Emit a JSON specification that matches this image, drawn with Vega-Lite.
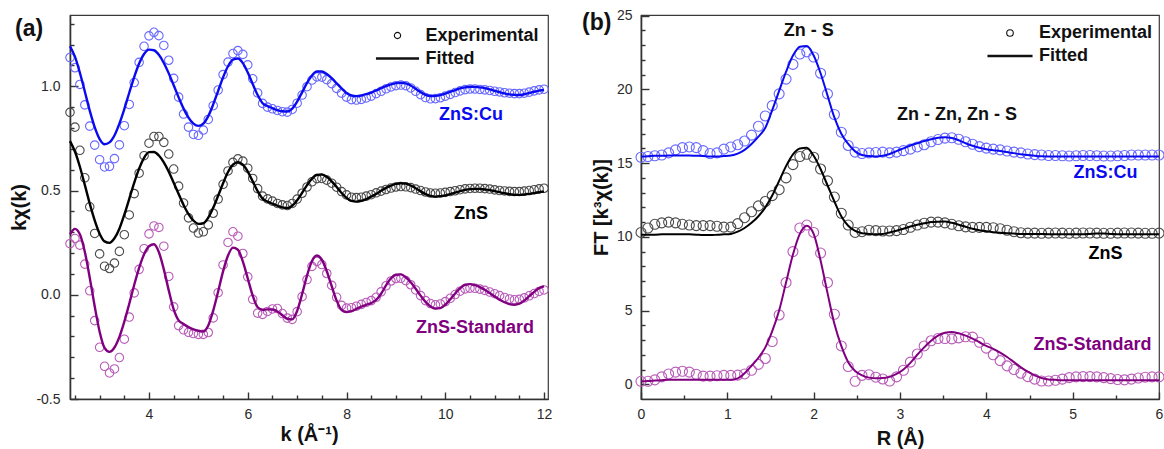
{
"$schema": "https://vega.github.io/schema/vega-lite/v6.json",
"autosize": {"type": "pad"},
"padding": {"left": 9, "top": 8, "right": 0, "bottom": 0},
"background": "white",
"config": {
  "font": "Liberation Sans",
  "view": {"stroke": "#3a3a3a", "strokeWidth": 1.2},
  "axis": {"labelFont": "Liberation Sans", "labelFontSize": 14, "labelColor": "#2a2a2a", "titleFont": "Liberation Sans", "titleFontSize": 20, "titleFontWeight": "bold", "titleColor": "#111", "domainColor": "#333", "domainWidth": 1.6, "tickColor": "#333", "tickWidth": 1.4, "grid": false, "labelFlush": false}
},
"datasets": {
"a": [
{"s":"ZnS:Cu","k":2.4,"e":1.138,"f":1.192},{"s":"ZnS:Cu","k":2.5,"e":1.089,"f":1.142},{"s":"ZnS:Cu","k":2.6,"e":1.009,"f":1.065},{"s":"ZnS:Cu","k":2.7,"e":0.911,"f":0.975},{"s":"ZnS:Cu","k":2.8,"e":0.809,"f":0.883},{"s":"ZnS:Cu","k":2.9,"e":0.718,"f":0.804},{"s":"ZnS:Cu","k":3.0,"e":0.648,"f":0.747},{"s":"ZnS:Cu","k":3.1,"e":0.613,"f":0.722},{"s":"ZnS:Cu","k":3.2,"e":0.616,"f":0.731},{"s":"ZnS:Cu","k":3.3,"e":0.653,"f":0.764},{"s":"ZnS:Cu","k":3.4,"e":0.719,"f":0.821},{"s":"ZnS:Cu","k":3.5,"e":0.811,"f":0.891},{"s":"ZnS:Cu","k":3.6,"e":0.913,"f":0.969},{"s":"ZnS:Cu","k":3.7,"e":1.018,"f":1.044},{"s":"ZnS:Cu","k":3.8,"e":1.115,"f":1.109},{"s":"ZnS:Cu","k":3.9,"e":1.192,"f":1.155},{"s":"ZnS:Cu","k":4.0,"e":1.242,"f":1.176},{"s":"ZnS:Cu","k":4.1,"e":1.259,"f":1.173},{"s":"ZnS:Cu","k":4.2,"e":1.243,"f":1.151},{"s":"ZnS:Cu","k":4.3,"e":1.196,"f":1.112},{"s":"ZnS:Cu","k":4.4,"e":1.125,"f":1.062},{"s":"ZnS:Cu","k":4.5,"e":1.038,"f":1.005},{"s":"ZnS:Cu","k":4.6,"e":0.948,"f":0.947},{"s":"ZnS:Cu","k":4.7,"e":0.867,"f":0.893},{"s":"ZnS:Cu","k":4.8,"e":0.804,"f":0.85},{"s":"ZnS:Cu","k":4.9,"e":0.769,"f":0.821},{"s":"ZnS:Cu","k":5.0,"e":0.765,"f":0.81},{"s":"ZnS:Cu","k":5.1,"e":0.79,"f":0.821},{"s":"ZnS:Cu","k":5.2,"e":0.841,"f":0.857},{"s":"ZnS:Cu","k":5.3,"e":0.907,"f":0.913},{"s":"ZnS:Cu","k":5.4,"e":0.982,"f":0.978},{"s":"ZnS:Cu","k":5.5,"e":1.056,"f":1.043},{"s":"ZnS:Cu","k":5.6,"e":1.116,"f":1.096},{"s":"ZnS:Cu","k":5.7,"e":1.157,"f":1.128},{"s":"ZnS:Cu","k":5.8,"e":1.171,"f":1.133},{"s":"ZnS:Cu","k":5.9,"e":1.153,"f":1.111},{"s":"ZnS:Cu","k":6.0,"e":1.103,"f":1.066},{"s":"ZnS:Cu","k":6.1,"e":1.036,"f":1.011},{"s":"ZnS:Cu","k":6.2,"e":0.968,"f":0.958},{"s":"ZnS:Cu","k":6.3,"e":0.918,"f":0.919},{"s":"ZnS:Cu","k":6.4,"e":0.9,"f":0.905},{"s":"ZnS:Cu","k":6.5,"e":0.892,"f":0.895},{"s":"ZnS:Cu","k":6.6,"e":0.884,"f":0.886},{"s":"ZnS:Cu","k":6.7,"e":0.878,"f":0.88},{"s":"ZnS:Cu","k":6.8,"e":0.876,"f":0.879},{"s":"ZnS:Cu","k":6.9,"e":0.889,"f":0.893},{"s":"ZnS:Cu","k":7.0,"e":0.919,"f":0.927},{"s":"ZnS:Cu","k":7.1,"e":0.958,"f":0.971},{"s":"ZnS:Cu","k":7.2,"e":0.998,"f":1.016},{"s":"ZnS:Cu","k":7.3,"e":1.03,"f":1.052},{"s":"ZnS:Cu","k":7.4,"e":1.045,"f":1.071},{"s":"ZnS:Cu","k":7.5,"e":1.044,"f":1.071},{"s":"ZnS:Cu","k":7.6,"e":1.032,"f":1.059},{"s":"ZnS:Cu","k":7.7,"e":1.013,"f":1.039},{"s":"ZnS:Cu","k":7.8,"e":0.99,"f":1.014},{"s":"ZnS:Cu","k":7.9,"e":0.967,"f":0.99},{"s":"ZnS:Cu","k":8.0,"e":0.948,"f":0.968},{"s":"ZnS:Cu","k":8.1,"e":0.936,"f":0.956},{"s":"ZnS:Cu","k":8.2,"e":0.934,"f":0.953},{"s":"ZnS:Cu","k":8.3,"e":0.937,"f":0.956},{"s":"ZnS:Cu","k":8.4,"e":0.944,"f":0.962},{"s":"ZnS:Cu","k":8.5,"e":0.953,"f":0.97},{"s":"ZnS:Cu","k":8.6,"e":0.965,"f":0.98},{"s":"ZnS:Cu","k":8.7,"e":0.976,"f":0.991},{"s":"ZnS:Cu","k":8.8,"e":0.988,"f":1.001},{"s":"ZnS:Cu","k":8.9,"e":0.997,"f":1.009},{"s":"ZnS:Cu","k":9.0,"e":1.003,"f":1.015},{"s":"ZnS:Cu","k":9.1,"e":1.006,"f":1.017},{"s":"ZnS:Cu","k":9.2,"e":1.003,"f":1.014},{"s":"ZnS:Cu","k":9.3,"e":0.992,"f":1.004},{"s":"ZnS:Cu","k":9.4,"e":0.976,"f":0.988},{"s":"ZnS:Cu","k":9.5,"e":0.96,"f":0.972},{"s":"ZnS:Cu","k":9.6,"e":0.946,"f":0.959},{"s":"ZnS:Cu","k":9.7,"e":0.94,"f":0.953},{"s":"ZnS:Cu","k":9.8,"e":0.941,"f":0.954},{"s":"ZnS:Cu","k":9.9,"e":0.945,"f":0.958},{"s":"ZnS:Cu","k":10.0,"e":0.953,"f":0.965},{"s":"ZnS:Cu","k":10.1,"e":0.961,"f":0.973},{"s":"ZnS:Cu","k":10.2,"e":0.97,"f":0.982},{"s":"ZnS:Cu","k":10.3,"e":0.978,"f":0.99},{"s":"ZnS:Cu","k":10.4,"e":0.984,"f":0.995},{"s":"ZnS:Cu","k":10.5,"e":0.987,"f":0.998},{"s":"ZnS:Cu","k":10.6,"e":0.987,"f":0.997},{"s":"ZnS:Cu","k":10.7,"e":0.985,"f":0.995},{"s":"ZnS:Cu","k":10.8,"e":0.983,"f":0.991},{"s":"ZnS:Cu","k":10.9,"e":0.98,"f":0.985},{"s":"ZnS:Cu","k":11.0,"e":0.976,"f":0.978},{"s":"ZnS:Cu","k":11.1,"e":0.973,"f":0.972},{"s":"ZnS:Cu","k":11.2,"e":0.969,"f":0.966},{"s":"ZnS:Cu","k":11.3,"e":0.967,"f":0.961},{"s":"ZnS:Cu","k":11.4,"e":0.965,"f":0.959},{"s":"ZnS:Cu","k":11.5,"e":0.965,"f":0.958},{"s":"ZnS:Cu","k":11.6,"e":0.967,"f":0.962},{"s":"ZnS:Cu","k":11.7,"e":0.972,"f":0.968},{"s":"ZnS:Cu","k":11.8,"e":0.978,"f":0.974},{"s":"ZnS:Cu","k":11.9,"e":0.983,"f":0.979},{"s":"ZnS:Cu","k":12.0,"e":0.986,"f":0.982},
{"s":"ZnS","k":2.4,"e":0.875,"f":0.737},{"s":"ZnS","k":2.5,"e":0.804,"f":0.687},{"s":"ZnS","k":2.6,"e":0.693,"f":0.614},{"s":"ZnS","k":2.7,"e":0.561,"f":0.527},{"s":"ZnS","k":2.8,"e":0.422,"f":0.437},{"s":"ZnS","k":2.9,"e":0.294,"f":0.357},{"s":"ZnS","k":3.0,"e":0.196,"f":0.293},{"s":"ZnS","k":3.1,"e":0.137,"f":0.256},{"s":"ZnS","k":3.2,"e":0.126,"f":0.249},{"s":"ZnS","k":3.3,"e":0.152,"f":0.271},{"s":"ZnS","k":3.4,"e":0.208,"f":0.317},{"s":"ZnS","k":3.5,"e":0.288,"f":0.384},{"s":"ZnS","k":3.6,"e":0.383,"f":0.46},{"s":"ZnS","k":3.7,"e":0.485,"f":0.537},{"s":"ZnS","k":3.8,"e":0.583,"f":0.605},{"s":"ZnS","k":3.9,"e":0.667,"f":0.657},{"s":"ZnS","k":4.0,"e":0.727,"f":0.684},{"s":"ZnS","k":4.1,"e":0.759,"f":0.685},{"s":"ZnS","k":4.2,"e":0.759,"f":0.668},{"s":"ZnS","k":4.3,"e":0.731,"f":0.635},{"s":"ZnS","k":4.4,"e":0.675,"f":0.59},{"s":"ZnS","k":4.5,"e":0.603,"f":0.537},{"s":"ZnS","k":4.6,"e":0.521,"f":0.483},{"s":"ZnS","k":4.7,"e":0.44,"f":0.431},{"s":"ZnS","k":4.8,"e":0.369,"f":0.387},{"s":"ZnS","k":4.9,"e":0.32,"f":0.356},{"s":"ZnS","k":5.0,"e":0.296,"f":0.34},{"s":"ZnS","k":5.1,"e":0.302,"f":0.343},{"s":"ZnS","k":5.2,"e":0.335,"f":0.37},{"s":"ZnS","k":5.3,"e":0.391,"f":0.417},{"s":"ZnS","k":5.4,"e":0.459,"f":0.475},{"s":"ZnS","k":5.5,"e":0.53,"f":0.535},{"s":"ZnS","k":5.6,"e":0.594,"f":0.589},{"s":"ZnS","k":5.7,"e":0.635,"f":0.624},{"s":"ZnS","k":5.8,"e":0.652,"f":0.636},{"s":"ZnS","k":5.9,"e":0.641,"f":0.624},{"s":"ZnS","k":6.0,"e":0.607,"f":0.591},{"s":"ZnS","k":6.1,"e":0.558,"f":0.544},{"s":"ZnS","k":6.2,"e":0.509,"f":0.497},{"s":"ZnS","k":6.3,"e":0.473,"f":0.461},{"s":"ZnS","k":6.4,"e":0.46,"f":0.447},{"s":"ZnS","k":6.5,"e":0.449,"f":0.437},{"s":"ZnS","k":6.6,"e":0.438,"f":0.427},{"s":"ZnS","k":6.7,"e":0.431,"f":0.419},{"s":"ZnS","k":6.8,"e":0.428,"f":0.416},{"s":"ZnS","k":6.9,"e":0.438,"f":0.427},{"s":"ZnS","k":7.0,"e":0.459,"f":0.453},{"s":"ZnS","k":7.1,"e":0.487,"f":0.489},{"s":"ZnS","k":7.2,"e":0.517,"f":0.526},{"s":"ZnS","k":7.3,"e":0.542,"f":0.557},{"s":"ZnS","k":7.4,"e":0.557,"f":0.575},{"s":"ZnS","k":7.5,"e":0.558,"f":0.577},{"s":"ZnS","k":7.6,"e":0.55,"f":0.566},{"s":"ZnS","k":7.7,"e":0.535,"f":0.544},{"s":"ZnS","k":7.8,"e":0.516,"f":0.517},{"s":"ZnS","k":7.9,"e":0.495,"f":0.488},{"s":"ZnS","k":8.0,"e":0.479,"f":0.465},{"s":"ZnS","k":8.1,"e":0.468,"f":0.45},{"s":"ZnS","k":8.2,"e":0.466,"f":0.447},{"s":"ZnS","k":8.3,"e":0.468,"f":0.451},{"s":"ZnS","k":8.4,"e":0.473,"f":0.459},{"s":"ZnS","k":8.5,"e":0.48,"f":0.471},{"s":"ZnS","k":8.6,"e":0.489,"f":0.484},{"s":"ZnS","k":8.7,"e":0.497,"f":0.499},{"s":"ZnS","k":8.8,"e":0.505,"f":0.513},{"s":"ZnS","k":8.9,"e":0.512,"f":0.524},{"s":"ZnS","k":9.0,"e":0.517,"f":0.532},{"s":"ZnS","k":9.1,"e":0.519,"f":0.535},{"s":"ZnS","k":9.2,"e":0.518,"f":0.533},{"s":"ZnS","k":9.3,"e":0.514,"f":0.524},{"s":"ZnS","k":9.4,"e":0.507,"f":0.511},{"s":"ZnS","k":9.5,"e":0.5,"f":0.496},{"s":"ZnS","k":9.6,"e":0.493,"f":0.483},{"s":"ZnS","k":9.7,"e":0.488,"f":0.474},{"s":"ZnS","k":9.8,"e":0.487,"f":0.471},{"s":"ZnS","k":9.9,"e":0.488,"f":0.473},{"s":"ZnS","k":10.0,"e":0.491,"f":0.477},{"s":"ZnS","k":10.1,"e":0.495,"f":0.483},{"s":"ZnS","k":10.2,"e":0.499,"f":0.49},{"s":"ZnS","k":10.3,"e":0.504,"f":0.497},{"s":"ZnS","k":10.4,"e":0.508,"f":0.503},{"s":"ZnS","k":10.5,"e":0.51,"f":0.507},{"s":"ZnS","k":10.6,"e":0.511,"f":0.508},{"s":"ZnS","k":10.7,"e":0.511,"f":0.508},{"s":"ZnS","k":10.8,"e":0.509,"f":0.505},{"s":"ZnS","k":10.9,"e":0.507,"f":0.502},{"s":"ZnS","k":11.0,"e":0.503,"f":0.497},{"s":"ZnS","k":11.1,"e":0.5,"f":0.492},{"s":"ZnS","k":11.2,"e":0.498,"f":0.487},{"s":"ZnS","k":11.3,"e":0.496,"f":0.483},{"s":"ZnS","k":11.4,"e":0.495,"f":0.48},{"s":"ZnS","k":11.5,"e":0.495,"f":0.479},{"s":"ZnS","k":11.6,"e":0.497,"f":0.481},{"s":"ZnS","k":11.7,"e":0.5,"f":0.484},{"s":"ZnS","k":11.8,"e":0.504,"f":0.488},{"s":"ZnS","k":11.9,"e":0.508,"f":0.492},{"s":"ZnS","k":12.0,"e":0.511,"f":0.495},
{"s":"ZnS-Standard","k":2.4,"e":0.245,"f":0.29},{"s":"ZnS-Standard","k":2.5,"e":0.27,"f":0.316},{"s":"ZnS-Standard","k":2.6,"e":0.238,"f":0.29},{"s":"ZnS-Standard","k":2.7,"e":0.147,"f":0.206},{"s":"ZnS-Standard","k":2.8,"e":0.019,"f":0.082},{"s":"ZnS-Standard","k":2.9,"e":-0.124,"f":-0.055},{"s":"ZnS-Standard","k":3.0,"e":-0.252,"f":-0.177},{"s":"ZnS-Standard","k":3.1,"e":-0.343,"f":-0.255},{"s":"ZnS-Standard","k":3.2,"e":-0.375,"f":-0.274},{"s":"ZnS-Standard","k":3.3,"e":-0.356,"f":-0.253},{"s":"ZnS-Standard","k":3.4,"e":-0.301,"f":-0.202},{"s":"ZnS-Standard","k":3.5,"e":-0.213,"f":-0.129},{"s":"ZnS-Standard","k":3.6,"e":-0.107,"f":-0.043},{"s":"ZnS-Standard","k":3.7,"e":0.009,"f":0.047},{"s":"ZnS-Standard","k":3.8,"e":0.122,"f":0.129},{"s":"ZnS-Standard","k":3.9,"e":0.221,"f":0.194},{"s":"ZnS-Standard","k":4.0,"e":0.292,"f":0.233},{"s":"ZnS-Standard","k":4.1,"e":0.33,"f":0.242},{"s":"ZnS-Standard","k":4.2,"e":0.323,"f":0.204},{"s":"ZnS-Standard","k":4.3,"e":0.233,"f":0.122},{"s":"ZnS-Standard","k":4.4,"e":0.088,"f":0.021},{"s":"ZnS-Standard","k":4.5,"e":-0.058,"f":-0.07},{"s":"ZnS-Standard","k":4.6,"e":-0.148,"f":-0.123},{"s":"ZnS-Standard","k":4.7,"e":-0.168,"f":-0.14},{"s":"ZnS-Standard","k":4.8,"e":-0.18,"f":-0.155},{"s":"ZnS-Standard","k":4.9,"e":-0.186,"f":-0.166},{"s":"ZnS-Standard","k":5.0,"e":-0.19,"f":-0.173},{"s":"ZnS-Standard","k":5.1,"e":-0.19,"f":-0.176},{"s":"ZnS-Standard","k":5.2,"e":-0.181,"f":-0.147},{"s":"ZnS-Standard","k":5.3,"e":-0.111,"f":-0.076},{"s":"ZnS-Standard","k":5.4,"e":0.01,"f":0.016},{"s":"ZnS-Standard","k":5.5,"e":0.143,"f":0.112},{"s":"ZnS-Standard","k":5.6,"e":0.251,"f":0.188},{"s":"ZnS-Standard","k":5.7,"e":0.302,"f":0.226},{"s":"ZnS-Standard","k":5.8,"e":0.281,"f":0.216},{"s":"ZnS-Standard","k":5.9,"e":0.198,"f":0.16},{"s":"ZnS-Standard","k":6.0,"e":0.086,"f":0.078},{"s":"ZnS-Standard","k":6.1,"e":-0.022,"f":-0.004},{"s":"ZnS-Standard","k":6.2,"e":-0.088,"f":-0.06},{"s":"ZnS-Standard","k":6.3,"e":-0.094,"f":-0.072},{"s":"ZnS-Standard","k":6.4,"e":-0.08,"f":-0.07},{"s":"ZnS-Standard","k":6.5,"e":-0.068,"f":-0.071},{"s":"ZnS-Standard","k":6.6,"e":-0.066,"f":-0.08},{"s":"ZnS-Standard","k":6.7,"e":-0.09,"f":-0.098},{"s":"ZnS-Standard","k":6.8,"e":-0.112,"f":-0.115},{"s":"ZnS-Standard","k":6.9,"e":-0.118,"f":-0.118},{"s":"ZnS-Standard","k":7.0,"e":-0.081,"f":-0.077},{"s":"ZnS-Standard","k":7.1,"e":-0.009,"f":0.003},{"s":"ZnS-Standard","k":7.2,"e":0.073,"f":0.092},{"s":"ZnS-Standard","k":7.3,"e":0.136,"f":0.162},{"s":"ZnS-Standard","k":7.4,"e":0.16,"f":0.188},{"s":"ZnS-Standard","k":7.5,"e":0.145,"f":0.168},{"s":"ZnS-Standard","k":7.6,"e":0.102,"f":0.113},{"s":"ZnS-Standard","k":7.7,"e":0.045,"f":0.041},{"s":"ZnS-Standard","k":7.8,"e":-0.012,"f":-0.028},{"s":"ZnS-Standard","k":7.9,"e":-0.051,"f":-0.073},{"s":"ZnS-Standard","k":8.0,"e":-0.064,"f":-0.083},{"s":"ZnS-Standard","k":8.1,"e":-0.062,"f":-0.078},{"s":"ZnS-Standard","k":8.2,"e":-0.055,"f":-0.068},{"s":"ZnS-Standard","k":8.3,"e":-0.046,"f":-0.057},{"s":"ZnS-Standard","k":8.4,"e":-0.037,"f":-0.048},{"s":"ZnS-Standard","k":8.5,"e":-0.028,"f":-0.04},{"s":"ZnS-Standard","k":8.6,"e":-0.012,"f":-0.025},{"s":"ZnS-Standard","k":8.7,"e":0.014,"f":0.005},{"s":"ZnS-Standard","k":8.8,"e":0.043,"f":0.045},{"s":"ZnS-Standard","k":8.9,"e":0.066,"f":0.079},{"s":"ZnS-Standard","k":9.0,"e":0.078,"f":0.096},{"s":"ZnS-Standard","k":9.1,"e":0.079,"f":0.098},{"s":"ZnS-Standard","k":9.2,"e":0.068,"f":0.084},{"s":"ZnS-Standard","k":9.3,"e":0.048,"f":0.06},{"s":"ZnS-Standard","k":9.4,"e":0.023,"f":0.029},{"s":"ZnS-Standard","k":9.5,"e":-0.004,"f":-0.004},{"s":"ZnS-Standard","k":9.6,"e":-0.028,"f":-0.034},{"s":"ZnS-Standard","k":9.7,"e":-0.042,"f":-0.056},{"s":"ZnS-Standard","k":9.8,"e":-0.048,"f":-0.066},{"s":"ZnS-Standard","k":9.9,"e":-0.044,"f":-0.064},{"s":"ZnS-Standard","k":10.0,"e":-0.033,"f":-0.048},{"s":"ZnS-Standard","k":10.1,"e":-0.017,"f":-0.022},{"s":"ZnS-Standard","k":10.2,"e":0.001,"f":0.006},{"s":"ZnS-Standard","k":10.3,"e":0.017,"f":0.032},{"s":"ZnS-Standard","k":10.4,"e":0.028,"f":0.048},{"s":"ZnS-Standard","k":10.5,"e":0.032,"f":0.051},{"s":"ZnS-Standard","k":10.6,"e":0.031,"f":0.046},{"s":"ZnS-Standard","k":10.7,"e":0.027,"f":0.037},{"s":"ZnS-Standard","k":10.8,"e":0.021,"f":0.024},{"s":"ZnS-Standard","k":10.9,"e":0.013,"f":0.008},{"s":"ZnS-Standard","k":11.0,"e":0.005,"f":-0.008},{"s":"ZnS-Standard","k":11.1,"e":-0.004,"f":-0.024},{"s":"ZnS-Standard","k":11.2,"e":-0.013,"f":-0.036},{"s":"ZnS-Standard","k":11.3,"e":-0.02,"f":-0.045},{"s":"ZnS-Standard","k":11.4,"e":-0.024,"f":-0.048},{"s":"ZnS-Standard","k":11.5,"e":-0.022,"f":-0.043},{"s":"ZnS-Standard","k":11.6,"e":-0.015,"f":-0.028},{"s":"ZnS-Standard","k":11.7,"e":-0.005,"f":-0.007},{"s":"ZnS-Standard","k":11.8,"e":0.006,"f":0.014},{"s":"ZnS-Standard","k":11.9,"e":0.016,"f":0.032},{"s":"ZnS-Standard","k":12.0,"e":0.023,"f":0.04}
],
"b": [
{"s":"ZnS:Cu","r":0,"e":15.4,"f":15.45},{"s":"ZnS:Cu","r":0.08,"e":15.45,"f":15.47},{"s":"ZnS:Cu","r":0.16,"e":15.5,"f":15.5},{"s":"ZnS:Cu","r":0.24,"e":15.55,"f":15.5},{"s":"ZnS:Cu","r":0.32,"e":15.7,"f":15.52},{"s":"ZnS:Cu","r":0.4,"e":15.9,"f":15.52},{"s":"ZnS:Cu","r":0.48,"e":16.05,"f":15.52},{"s":"ZnS:Cu","r":0.56,"e":16.1,"f":15.52},{"s":"ZnS:Cu","r":0.64,"e":16.05,"f":15.5},{"s":"ZnS:Cu","r":0.72,"e":15.85,"f":15.48},{"s":"ZnS:Cu","r":0.8,"e":15.65,"f":15.45},{"s":"ZnS:Cu","r":0.88,"e":15.7,"f":15.45},{"s":"ZnS:Cu","r":0.96,"e":15.95,"f":15.48},{"s":"ZnS:Cu","r":1.04,"e":16.1,"f":15.52},{"s":"ZnS:Cu","r":1.12,"e":16.25,"f":15.65},{"s":"ZnS:Cu","r":1.2,"e":16.5,"f":15.9},{"s":"ZnS:Cu","r":1.28,"e":16.9,"f":16.3},{"s":"ZnS:Cu","r":1.36,"e":17.5,"f":16.8},{"s":"ZnS:Cu","r":1.44,"e":18.2,"f":17.4},{"s":"ZnS:Cu","r":1.52,"e":18.9,"f":18.6},{"s":"ZnS:Cu","r":1.6,"e":19.7,"f":19.9},{"s":"ZnS:Cu","r":1.68,"e":20.7,"f":21.2},{"s":"ZnS:Cu","r":1.76,"e":21.7,"f":22.3},{"s":"ZnS:Cu","r":1.84,"e":22.4,"f":22.9},{"s":"ZnS:Cu","r":1.92,"e":22.55,"f":22.95},{"s":"ZnS:Cu","r":2.0,"e":22.2,"f":22.3},{"s":"ZnS:Cu","r":2.08,"e":21.1,"f":21.1},{"s":"ZnS:Cu","r":2.16,"e":19.7,"f":19.6},{"s":"ZnS:Cu","r":2.24,"e":18.3,"f":18.1},{"s":"ZnS:Cu","r":2.32,"e":17.1,"f":17.0},{"s":"ZnS:Cu","r":2.4,"e":16.2,"f":16.3},{"s":"ZnS:Cu","r":2.48,"e":15.75,"f":15.8},{"s":"ZnS:Cu","r":2.56,"e":15.65,"f":15.55},{"s":"ZnS:Cu","r":2.64,"e":15.7,"f":15.48},{"s":"ZnS:Cu","r":2.72,"e":15.72,"f":15.45},{"s":"ZnS:Cu","r":2.8,"e":15.75,"f":15.5},{"s":"ZnS:Cu","r":2.88,"e":15.7,"f":15.62},{"s":"ZnS:Cu","r":2.96,"e":15.75,"f":15.82},{"s":"ZnS:Cu","r":3.04,"e":15.85,"f":16.0},{"s":"ZnS:Cu","r":3.12,"e":15.95,"f":16.2},{"s":"ZnS:Cu","r":3.2,"e":16.1,"f":16.35},{"s":"ZnS:Cu","r":3.28,"e":16.25,"f":16.5},{"s":"ZnS:Cu","r":3.36,"e":16.45,"f":16.62},{"s":"ZnS:Cu","r":3.44,"e":16.6,"f":16.72},{"s":"ZnS:Cu","r":3.52,"e":16.7,"f":16.76},{"s":"ZnS:Cu","r":3.6,"e":16.72,"f":16.7},{"s":"ZnS:Cu","r":3.68,"e":16.62,"f":16.55},{"s":"ZnS:Cu","r":3.76,"e":16.45,"f":16.35},{"s":"ZnS:Cu","r":3.84,"e":16.28,"f":16.18},{"s":"ZnS:Cu","r":3.92,"e":16.12,"f":16.05},{"s":"ZnS:Cu","r":4.0,"e":16.02,"f":15.95},{"s":"ZnS:Cu","r":4.08,"e":15.95,"f":15.88},{"s":"ZnS:Cu","r":4.16,"e":15.9,"f":15.82},{"s":"ZnS:Cu","r":4.24,"e":15.82,"f":15.75},{"s":"ZnS:Cu","r":4.32,"e":15.75,"f":15.68},{"s":"ZnS:Cu","r":4.4,"e":15.7,"f":15.6},{"s":"ZnS:Cu","r":4.48,"e":15.62,"f":15.55},{"s":"ZnS:Cu","r":4.56,"e":15.58,"f":15.5},{"s":"ZnS:Cu","r":4.64,"e":15.55,"f":15.46},{"s":"ZnS:Cu","r":4.72,"e":15.52,"f":15.45},{"s":"ZnS:Cu","r":4.8,"e":15.52,"f":15.45},{"s":"ZnS:Cu","r":4.88,"e":15.5,"f":15.45},{"s":"ZnS:Cu","r":4.96,"e":15.48,"f":15.45},{"s":"ZnS:Cu","r":5.04,"e":15.5,"f":15.45},{"s":"ZnS:Cu","r":5.12,"e":15.52,"f":15.45},{"s":"ZnS:Cu","r":5.2,"e":15.52,"f":15.45},{"s":"ZnS:Cu","r":5.28,"e":15.5,"f":15.45},{"s":"ZnS:Cu","r":5.36,"e":15.48,"f":15.45},{"s":"ZnS:Cu","r":5.44,"e":15.48,"f":15.45},{"s":"ZnS:Cu","r":5.52,"e":15.5,"f":15.45},{"s":"ZnS:Cu","r":5.6,"e":15.52,"f":15.45},{"s":"ZnS:Cu","r":5.68,"e":15.55,"f":15.45},{"s":"ZnS:Cu","r":5.76,"e":15.55,"f":15.45},{"s":"ZnS:Cu","r":5.84,"e":15.55,"f":15.45},{"s":"ZnS:Cu","r":5.92,"e":15.55,"f":15.45},{"s":"ZnS:Cu","r":6.0,"e":15.55,"f":15.45},
{"s":"ZnS","r":0,"e":10.3,"f":10.15},{"s":"ZnS","r":0.08,"e":10.6,"f":10.15},{"s":"ZnS","r":0.16,"e":10.85,"f":10.15},{"s":"ZnS","r":0.24,"e":10.95,"f":10.17},{"s":"ZnS","r":0.32,"e":11.0,"f":10.18},{"s":"ZnS","r":0.4,"e":10.95,"f":10.18},{"s":"ZnS","r":0.48,"e":10.85,"f":10.18},{"s":"ZnS","r":0.56,"e":10.8,"f":10.17},{"s":"ZnS","r":0.64,"e":10.76,"f":10.15},{"s":"ZnS","r":0.72,"e":10.76,"f":10.12},{"s":"ZnS","r":0.8,"e":10.76,"f":10.12},{"s":"ZnS","r":0.88,"e":10.72,"f":10.14},{"s":"ZnS","r":0.96,"e":10.66,"f":10.17},{"s":"ZnS","r":1.04,"e":10.66,"f":10.2},{"s":"ZnS","r":1.12,"e":10.9,"f":10.35},{"s":"ZnS","r":1.2,"e":11.3,"f":10.6},{"s":"ZnS","r":1.28,"e":11.7,"f":10.95},{"s":"ZnS","r":1.36,"e":12.1,"f":11.4},{"s":"ZnS","r":1.44,"e":12.4,"f":12.0},{"s":"ZnS","r":1.52,"e":12.8,"f":12.8},{"s":"ZnS","r":1.6,"e":13.2,"f":13.8},{"s":"ZnS","r":1.68,"e":14.0,"f":14.8},{"s":"ZnS","r":1.76,"e":14.9,"f":15.6},{"s":"ZnS","r":1.84,"e":15.45,"f":16.0},{"s":"ZnS","r":1.92,"e":15.6,"f":16.05},{"s":"ZnS","r":2.0,"e":15.4,"f":15.5},{"s":"ZnS","r":2.08,"e":14.6,"f":14.6},{"s":"ZnS","r":2.16,"e":13.8,"f":13.5},{"s":"ZnS","r":2.24,"e":12.7,"f":12.4},{"s":"ZnS","r":2.32,"e":11.6,"f":11.4},{"s":"ZnS","r":2.4,"e":10.8,"f":10.75},{"s":"ZnS","r":2.48,"e":10.3,"f":10.4},{"s":"ZnS","r":2.56,"e":10.35,"f":10.25},{"s":"ZnS","r":2.64,"e":10.45,"f":10.2},{"s":"ZnS","r":2.72,"e":10.42,"f":10.18},{"s":"ZnS","r":2.8,"e":10.4,"f":10.2},{"s":"ZnS","r":2.88,"e":10.4,"f":10.3},{"s":"ZnS","r":2.96,"e":10.42,"f":10.42},{"s":"ZnS","r":3.04,"e":10.5,"f":10.55},{"s":"ZnS","r":3.12,"e":10.65,"f":10.7},{"s":"ZnS","r":3.2,"e":10.8,"f":10.82},{"s":"ZnS","r":3.28,"e":10.92,"f":10.92},{"s":"ZnS","r":3.36,"e":11.0,"f":11.0},{"s":"ZnS","r":3.44,"e":11.0,"f":11.03},{"s":"ZnS","r":3.52,"e":10.95,"f":11.04},{"s":"ZnS","r":3.6,"e":10.85,"f":10.95},{"s":"ZnS","r":3.68,"e":10.75,"f":10.82},{"s":"ZnS","r":3.76,"e":10.68,"f":10.68},{"s":"ZnS","r":3.84,"e":10.64,"f":10.55},{"s":"ZnS","r":3.92,"e":10.64,"f":10.45},{"s":"ZnS","r":4.0,"e":10.64,"f":10.38},{"s":"ZnS","r":4.08,"e":10.62,"f":10.32},{"s":"ZnS","r":4.16,"e":10.55,"f":10.28},{"s":"ZnS","r":4.24,"e":10.45,"f":10.25},{"s":"ZnS","r":4.32,"e":10.35,"f":10.22},{"s":"ZnS","r":4.4,"e":10.28,"f":10.2},{"s":"ZnS","r":4.48,"e":10.25,"f":10.2},{"s":"ZnS","r":4.56,"e":10.25,"f":10.2},{"s":"ZnS","r":4.64,"e":10.24,"f":10.19},{"s":"ZnS","r":4.72,"e":10.25,"f":10.18},{"s":"ZnS","r":4.8,"e":10.26,"f":10.18},{"s":"ZnS","r":4.88,"e":10.25,"f":10.18},{"s":"ZnS","r":4.96,"e":10.24,"f":10.18},{"s":"ZnS","r":5.04,"e":10.25,"f":10.18},{"s":"ZnS","r":5.12,"e":10.26,"f":10.18},{"s":"ZnS","r":5.2,"e":10.26,"f":10.2},{"s":"ZnS","r":5.28,"e":10.25,"f":10.22},{"s":"ZnS","r":5.36,"e":10.24,"f":10.22},{"s":"ZnS","r":5.44,"e":10.24,"f":10.2},{"s":"ZnS","r":5.52,"e":10.25,"f":10.18},{"s":"ZnS","r":5.6,"e":10.26,"f":10.17},{"s":"ZnS","r":5.68,"e":10.26,"f":10.17},{"s":"ZnS","r":5.76,"e":10.25,"f":10.18},{"s":"ZnS","r":5.84,"e":10.24,"f":10.18},{"s":"ZnS","r":5.92,"e":10.24,"f":10.18},{"s":"ZnS","r":6.0,"e":10.25,"f":10.18},
{"s":"ZnS-Standard","r":0,"e":0.2,"f":0.2},{"s":"ZnS-Standard","r":0.08,"e":0.2,"f":0.22},{"s":"ZnS-Standard","r":0.16,"e":0.3,"f":0.25},{"s":"ZnS-Standard","r":0.24,"e":0.5,"f":0.28},{"s":"ZnS-Standard","r":0.32,"e":0.7,"f":0.3},{"s":"ZnS-Standard","r":0.4,"e":0.82,"f":0.3},{"s":"ZnS-Standard","r":0.48,"e":0.88,"f":0.3},{"s":"ZnS-Standard","r":0.56,"e":0.82,"f":0.3},{"s":"ZnS-Standard","r":0.64,"e":0.68,"f":0.3},{"s":"ZnS-Standard","r":0.72,"e":0.55,"f":0.3},{"s":"ZnS-Standard","r":0.8,"e":0.55,"f":0.3},{"s":"ZnS-Standard","r":0.88,"e":0.58,"f":0.3},{"s":"ZnS-Standard","r":0.96,"e":0.6,"f":0.3},{"s":"ZnS-Standard","r":1.04,"e":0.6,"f":0.3},{"s":"ZnS-Standard","r":1.12,"e":0.62,"f":0.4},{"s":"ZnS-Standard","r":1.2,"e":0.7,"f":0.75},{"s":"ZnS-Standard","r":1.28,"e":0.95,"f":1.25},{"s":"ZnS-Standard","r":1.36,"e":1.35,"f":1.8},{"s":"ZnS-Standard","r":1.44,"e":1.75,"f":2.5},{"s":"ZnS-Standard","r":1.52,"e":2.9,"f":3.6},{"s":"ZnS-Standard","r":1.6,"e":4.7,"f":5.0},{"s":"ZnS-Standard","r":1.68,"e":6.9,"f":6.9},{"s":"ZnS-Standard","r":1.76,"e":9.0,"f":8.8},{"s":"ZnS-Standard","r":1.84,"e":10.6,"f":10.2},{"s":"ZnS-Standard","r":1.92,"e":10.8,"f":10.75},{"s":"ZnS-Standard","r":2.0,"e":10.3,"f":10.2},{"s":"ZnS-Standard","r":2.08,"e":8.9,"f":8.4},{"s":"ZnS-Standard","r":2.16,"e":6.9,"f":6.2},{"s":"ZnS-Standard","r":2.24,"e":4.75,"f":4.1},{"s":"ZnS-Standard","r":2.32,"e":2.6,"f":2.6},{"s":"ZnS-Standard","r":2.4,"e":1.2,"f":1.5},{"s":"ZnS-Standard","r":2.48,"e":0.2,"f":0.9},{"s":"ZnS-Standard","r":2.56,"e":0.6,"f":0.6},{"s":"ZnS-Standard","r":2.64,"e":0.65,"f":0.45},{"s":"ZnS-Standard","r":2.72,"e":0.48,"f":0.4},{"s":"ZnS-Standard","r":2.8,"e":0.36,"f":0.42},{"s":"ZnS-Standard","r":2.88,"e":0.22,"f":0.5},{"s":"ZnS-Standard","r":2.96,"e":0.5,"f":0.7},{"s":"ZnS-Standard","r":3.04,"e":0.95,"f":1.0},{"s":"ZnS-Standard","r":3.12,"e":1.5,"f":1.45},{"s":"ZnS-Standard","r":3.2,"e":2.05,"f":2.0},{"s":"ZnS-Standard","r":3.28,"e":2.6,"f":2.5},{"s":"ZnS-Standard","r":3.36,"e":2.95,"f":2.95},{"s":"ZnS-Standard","r":3.44,"e":3.1,"f":3.3},{"s":"ZnS-Standard","r":3.52,"e":3.1,"f":3.5},{"s":"ZnS-Standard","r":3.6,"e":3.08,"f":3.55},{"s":"ZnS-Standard","r":3.68,"e":3.15,"f":3.45},{"s":"ZnS-Standard","r":3.76,"e":3.22,"f":3.3},{"s":"ZnS-Standard","r":3.84,"e":3.2,"f":3.1},{"s":"ZnS-Standard","r":3.92,"e":2.85,"f":2.85},{"s":"ZnS-Standard","r":4.0,"e":2.45,"f":2.6},{"s":"ZnS-Standard","r":4.08,"e":2.0,"f":2.4},{"s":"ZnS-Standard","r":4.16,"e":1.6,"f":2.15},{"s":"ZnS-Standard","r":4.24,"e":1.25,"f":1.85},{"s":"ZnS-Standard","r":4.32,"e":1.0,"f":1.5},{"s":"ZnS-Standard","r":4.4,"e":0.75,"f":1.15},{"s":"ZnS-Standard","r":4.48,"e":0.52,"f":0.85},{"s":"ZnS-Standard","r":4.56,"e":0.35,"f":0.6},{"s":"ZnS-Standard","r":4.64,"e":0.22,"f":0.42},{"s":"ZnS-Standard","r":4.72,"e":0.22,"f":0.33},{"s":"ZnS-Standard","r":4.8,"e":0.27,"f":0.3},{"s":"ZnS-Standard","r":4.88,"e":0.35,"f":0.28},{"s":"ZnS-Standard","r":4.96,"e":0.45,"f":0.28},{"s":"ZnS-Standard","r":5.04,"e":0.5,"f":0.28},{"s":"ZnS-Standard","r":5.12,"e":0.52,"f":0.28},{"s":"ZnS-Standard","r":5.2,"e":0.52,"f":0.28},{"s":"ZnS-Standard","r":5.28,"e":0.5,"f":0.28},{"s":"ZnS-Standard","r":5.36,"e":0.45,"f":0.28},{"s":"ZnS-Standard","r":5.44,"e":0.38,"f":0.28},{"s":"ZnS-Standard","r":5.52,"e":0.32,"f":0.28},{"s":"ZnS-Standard","r":5.6,"e":0.3,"f":0.28},{"s":"ZnS-Standard","r":5.68,"e":0.35,"f":0.28},{"s":"ZnS-Standard","r":5.76,"e":0.42,"f":0.28},{"s":"ZnS-Standard","r":5.84,"e":0.48,"f":0.28},{"s":"ZnS-Standard","r":5.92,"e":0.5,"f":0.28},{"s":"ZnS-Standard","r":6.0,"e":0.5,"f":0.28}
],
"la": [
{"s":"ZnS:Cu","k":10.52,"y":0.862,"t":"ZnS:Cu"},
{"s":"ZnS","k":10.52,"y":0.388,"t":"ZnS"},
{"s":"ZnS-Standard","k":10.6,"y":-0.158,"t":"ZnS-Standard"}
],
"lb": [
{"s":"bond","r":1.944,"v":23.98,"t":"Zn - S"},
{"s":"bond","r":3.66,"v":18.29,"t":"Zn - Zn, Zn - S"},
{"s":"ZnS:Cu","r":5.38,"v":14.34,"t":"ZnS:Cu"},
{"s":"ZnS","r":5.38,"v":8.84,"t":"ZnS"},
{"s":"ZnS-Standard","r":5.23,"v":2.67,"t":"ZnS-Standard"}
]
},
"spacing": 93,
"bounds": "flush",
"resolve": {"scale": {"color": "independent", "stroke": "independent", "shape": "independent"}, "legend": {"shape": "independent"}},
"hconcat": [
{
  "width": 478, "height": 384,
  "title": {"text": "(a)", "anchor": "start", "frame": "group", "orient": "top", "offset": -26, "dx": -55, "fontSize": 23, "fontWeight": "bold", "font": "Liberation Sans", "color": "#111"},
  "layer": [
    {
      "data": {"name": "a"},
      "transform": [{"fold": ["e"], "as": ["kind", "val"]}],
      "mark": {"type": "point", "filled": false, "strokeWidth": 1.1, "size": 800, "opacity": 1},
      "encoding": {
        "x": {"field": "k", "type": "quantitative", "scale": {"domain": [2.4, 12.08], "nice": false, "zero": false}, "axis": {"orient": "bottom", "values": [4, 6, 8, 10, 12], "tickSize": -7, "labelPadding": 15, "title": "k (Å⁻¹)", "titlePadding": 3}},
        "y": {"field": "val", "type": "quantitative", "scale": {"domain": [-0.5, 1.342], "nice": false, "zero": false}, "axis": {"orient": "left", "values": [-0.5, 0, 0.5, 1], "tickSize": -8, "labelPadding": 18, "title": "kχ(k)", "titlePadding": 6, "labelExpr": "datum.value < 0 ? '-' + format(-datum.value, '.1f') : format(datum.value, '.1f')"}},
        "stroke": {"field": "s", "type": "nominal", "scale": {"domain": ["ZnS:Cu", "ZnS", "ZnS-Standard"], "range": ["#6868ff", "#4a4a4a", "#b85cb8"]}, "legend": null},
        "shape": {"field": "kind", "type": "nominal", "scale": {"domain": ["e", "f"], "range": ["M-0.3,0A0.3,0.3,0,1,1,0.3,0A0.3,0.3,0,1,1,-0.3,0Z", "M-2,-0.06L2,-0.06L2,0.06L-2,0.06Z"]},
          "legend": {"orient": "top-right", "title": null, "offset": 9, "symbolSize": 441, "labelOffset": 16.5, "rowPadding": 2, "padding": 0, "symbolStrokeColor": "#111", "symbolFillColor": "transparent", "symbolStrokeWidth": 1.1, "symbolOpacity": 1, "labelFont": "Liberation Sans", "labelFontSize": 18, "labelFontWeight": "bold", "labelColor": "#111", "labelExpr": "datum.value === 'e' ? 'Experimental' : 'Fitted'", "encode": {"symbols": {"update": {"stroke": {"value": "#111"}, "fill": {"value": "transparent"}, "opacity": {"value": 1}}}}}}
      }
    },
    {
      "data": {"name": "a"},
      "mark": {"type": "line", "strokeWidth": 2.4, "interpolate": "monotone"},
      "encoding": {
        "x": {"field": "k", "type": "quantitative", "scale": {"domain": [2.4, 12.08], "nice": false, "zero": false}, "axis": {"orient": "bottom", "values": [2.5, 3, 3.5, 4.5, 5, 5.5, 6.5, 7, 7.5, 8.5, 9, 9.5, 10.5, 11, 11.5], "labels": false, "domain": false, "title": null, "tickSize": -4}},
        "y": {"field": "f", "type": "quantitative", "scale": {"domain": [-0.5, 1.342], "nice": false, "zero": false}, "axis": {"orient": "left", "values": [-0.4, -0.3, -0.2, -0.1, 0.1, 0.2, 0.3, 0.4, 0.6, 0.7, 0.8, 0.9, 1.1, 1.2, 1.3], "labels": false, "domain": false, "title": null, "tickSize": -4}},
        "color": {"field": "s", "type": "nominal", "scale": {"domain": ["ZnS:Cu", "ZnS", "ZnS-Standard"], "range": ["#0a0af0", "#000000", "#800080"]}, "legend": null}
      }
    },
    {
      "data": {"name": "la"},
      "mark": {"type": "text", "fontSize": 18, "fontWeight": "bold", "font": "Liberation Sans", "align": "center", "baseline": "middle"},
      "encoding": {
        "x": {"field": "k", "type": "quantitative", "scale": {"domain": [2.4, 12.08], "nice": false, "zero": false}, "axis": null},
        "y": {"field": "y", "type": "quantitative", "scale": {"domain": [-0.5, 1.342], "nice": false, "zero": false}, "axis": null},
        "text": {"field": "t"},
        "color": {"field": "s", "type": "nominal", "legend": null}
      }
    }
  ],
  "resolve": {"axis": {"x": "independent", "y": "independent"}}
},
{
  "width": 518, "height": 384,
  "title": {"text": "(b)", "anchor": "start", "frame": "group", "orient": "top", "offset": -26, "dx": -59, "fontSize": 23, "fontWeight": "bold", "font": "Liberation Sans", "color": "#111"},
  "layer": [
    {
      "data": {"name": "b"},
      "transform": [{"fold": ["e"], "as": ["kind", "val"]}],
      "mark": {"type": "point", "filled": false, "strokeWidth": 1.1, "size": 1111, "opacity": 1},
      "encoding": {
        "x": {"field": "r", "type": "quantitative", "scale": {"domain": [0, 6], "nice": false, "zero": false}, "axis": {"orient": "bottom", "values": [0, 1, 2, 3, 4, 5, 6], "tickSize": -7, "labelPadding": 15, "title": "R (Å)", "titlePadding": 7}},
        "y": {"field": "val", "type": "quantitative", "scale": {"domain": [-1, 25.05], "nice": false, "zero": false}, "axis": {"orient": "left", "values": [0, 5, 10, 15, 20, 25], "tickSize": -8, "labelPadding": 17, "title": "FT [k³χ(k)]", "titlePadding": 5}},
        "stroke": {"field": "s", "type": "nominal", "scale": {"domain": ["ZnS:Cu", "ZnS", "ZnS-Standard"], "range": ["#6868ff", "#4a4a4a", "#b85cb8"]}, "legend": null},
        "shape": {"field": "kind", "type": "nominal", "scale": {"domain": ["e", "f"], "range": ["M-0.3,0A0.3,0.3,0,1,1,0.3,0A0.3,0.3,0,1,1,-0.3,0Z", "M-2,-0.06L2,-0.06L2,0.06L-2,0.06Z"]},
          "legend": {"orient": "top-right", "title": null, "offset": 6, "symbolSize": 484, "labelOffset": 17, "rowPadding": 2, "padding": 0, "symbolStrokeColor": "#111", "symbolFillColor": "transparent", "symbolStrokeWidth": 1.1, "symbolOpacity": 1, "labelFont": "Liberation Sans", "labelFontSize": 18, "labelFontWeight": "bold", "labelColor": "#111", "labelExpr": "datum.value === 'e' ? 'Experimental' : 'Fitted'", "encode": {"symbols": {"update": {"stroke": {"value": "#111"}, "fill": {"value": "transparent"}, "opacity": {"value": 1}}}}}}
      }
    },
    {
      "data": {"name": "b"},
      "mark": {"type": "line", "strokeWidth": 2, "interpolate": "monotone"},
      "encoding": {
        "x": {"field": "r", "type": "quantitative", "scale": {"domain": [0, 6], "nice": false, "zero": false}, "axis": {"orient": "bottom", "values": [0.5, 1.5, 2.5, 3.5, 4.5, 5.5], "labels": false, "domain": false, "title": null, "tickSize": -4}},
        "y": {"field": "f", "type": "quantitative", "scale": {"domain": [-1, 25.05], "nice": false, "zero": false}, "axis": {"orient": "left", "values": [1, 2, 3, 4, 6, 7, 8, 9, 11, 12, 13, 14, 16, 17, 18, 19, 21, 22, 23, 24], "labels": false, "domain": false, "title": null, "tickSize": -4}},
        "color": {"field": "s", "type": "nominal", "scale": {"domain": ["ZnS:Cu", "ZnS", "ZnS-Standard", "bond"], "range": ["#0a0af0", "#000000", "#800080", "#111111"]}, "legend": null}
      }
    },
    {
      "data": {"name": "lb"},
      "mark": {"type": "text", "fontSize": 18, "fontWeight": "bold", "font": "Liberation Sans", "align": "center", "baseline": "middle"},
      "encoding": {
        "x": {"field": "r", "type": "quantitative", "scale": {"domain": [0, 6], "nice": false, "zero": false}, "axis": null},
        "y": {"field": "v", "type": "quantitative", "scale": {"domain": [-1, 25.05], "nice": false, "zero": false}, "axis": null},
        "text": {"field": "t"},
        "color": {"field": "s", "type": "nominal", "legend": null}
      }
    }
  ],
  "resolve": {"axis": {"x": "independent", "y": "independent"}}
}
]
}
